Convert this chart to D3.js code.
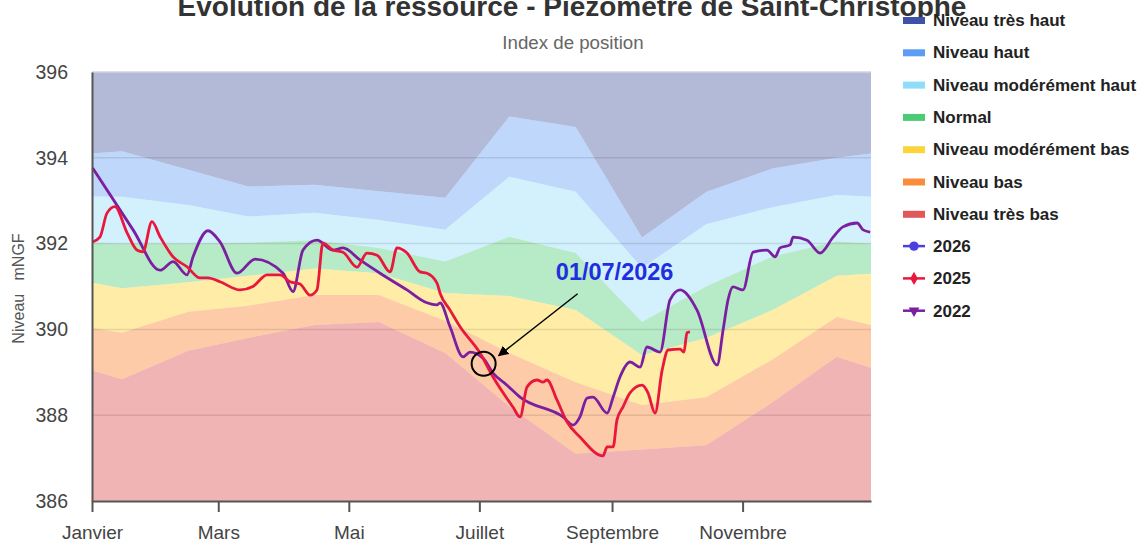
<!DOCTYPE html>
<html>
<head>
<meta charset="utf-8">
<script src="https://cdn.jsdelivr.net/npm/d3@7"></script>
<style>
  body { margin: 0; background: #fff; }
  svg { font-family: "Liberation Sans", Arial, sans-serif; }
</style>
</head>
<body>
<div id="chart"></div>
<script>
// --- data (day of year, value in mNGF) ---
const monthTickDays = [0, 59, 120, 181, 243, 304];
const monthLabels = ["Janvier", "Mars", "Mai", "Juillet", "Septembre", "Novembre"];
const yTicks = [386, 388, 390, 392, 394, 396];

// threshold curves, one point per month (15th) plus the year ends
const thresholdDays = [0, 14, 45, 73, 104, 134, 165, 195, 226, 257, 287, 318, 348, 364];
const limitTresBas = [389.05, 388.84, 389.5, 389.8, 390.1, 390.17, 389.45, 388.2, 387.1, 387.2, 387.3, 388.3, 389.36, 389.1];
const limitBas = [390.03, 389.92, 390.41, 390.55, 390.8, 390.8, 390.2, 389.45, 388.77, 388.24, 388.42, 389.3, 390.29, 390.1];
const limitModBas = [391.09, 390.96, 391.1, 391.25, 391.42, 391.31, 390.85, 390.78, 390.45, 389.4, 389.8, 390.45, 391.25, 391.3];
const limitNormal = [392.02, 392.0, 392.0, 392.02, 392.08, 391.9, 391.58, 392.16, 391.78, 390.17, 391.0, 391.7, 392.05, 392.0];
const limitModHaut = [393.1, 393.09, 392.9, 392.63, 392.72, 392.55, 392.32, 393.56, 393.21, 391.43, 392.45, 392.85, 393.13, 393.09];
const limitHaut = [394.1, 394.15, 393.72, 393.33, 393.37, 393.22, 393.07, 394.96, 394.72, 392.14, 393.2, 393.75, 394.0, 394.1];

const levels2025 = [
  [0.3, 392.04], [3.7, 392.15], [7.0, 392.71], [10.7, 392.86], [16.4, 392.25], [21.0, 391.85],
  [23.8, 391.81], [28.0, 392.51], [31.8, 392.16], [37.9, 391.69], [44.4, 391.46], [50.5, 391.2],
  [54.2, 391.2], [59.8, 391.11], [69.2, 390.92], [75.2, 391.0], [81.8, 391.27], [87.9, 391.27],
  [92.5, 391.11], [97.2, 391.06], [101.9, 390.8], [105.1, 390.92], [107.9, 392.01], [112.6, 391.85],
  [117.3, 391.8], [123.8, 391.45], [128.5, 391.78], [133.2, 391.73], [139.3, 391.34], [142.5, 391.9],
  [147.2, 391.78], [153.3, 391.34], [156.5, 391.31], [161.2, 391.08], [162.6, 390.85], [167.3, 390.45],
  [172.0, 390.06], [181.3, 389.45], [187.4, 388.89], [196.7, 388.19], [200, 387.96], [203.3, 388.66],
  [207.9, 388.82], [210.7, 388.77], [212.6, 388.82], [217.3, 388.35], [222, 387.84], [228, 387.49],
  [238.8, 387.05], [240.7, 387.26], [243.5, 387.26], [245.3, 387.89], [248.1, 388.19], [251.4, 388.52],
  [257, 388.7], [259.8, 388.52], [263.1, 388.05], [266.4, 389.05], [269.2, 389.52], [274.8, 389.54],
  [276.6, 389.47], [278, 389.92], [279.4, 389.94]
];
const levels2022 = [
  [0.3, 393.76], [19.2, 392.32], [31.8, 391.38], [37.9, 391.58], [44.4, 391.27], [47.2, 391.69],
  [54.2, 392.3], [59.8, 392.04], [67.8, 391.31], [76.2, 391.64], [89.3, 391.31], [93.9, 390.88],
  [98.6, 391.85], [105.1, 392.08], [112.6, 391.85], [117.3, 391.9], [125.2, 391.62], [134.6, 391.31],
  [147.2, 390.92], [156.5, 390.62], [161.2, 390.57], [162.6, 390.62], [167.3, 390.06], [173.4, 389.36],
  [176.6, 389.47], [182.7, 389.33], [187.4, 388.98], [193.9, 388.7], [200, 388.42], [220.1, 387.96],
  [224.8, 387.77], [228, 387.96], [231.3, 388.4], [234.1, 388.42], [240.7, 388.05], [243.5, 388.42],
  [246.7, 388.89], [251.4, 389.24], [256.1, 389.12], [259.3, 389.59], [265.4, 389.47], [270.1, 390.69],
  [274.8, 390.92], [282.7, 390.45], [292.1, 389.17], [294.9, 389.99], [297.2, 390.69], [299.5, 390.99],
  [304.2, 390.92], [308.9, 391.8], [315.4, 391.85], [319.2, 391.69], [321.5, 391.9], [326.2, 391.97],
  [327.6, 392.15], [334.1, 392.08], [340.2, 391.78], [346.3, 392.15], [350.9, 392.39], [357.5, 392.48],
  [360.3, 392.32], [363.6, 392.27]
];

const bandNames = ["Niveau très haut", "Niveau haut", "Niveau modérément haut", "Normal",
  "Niveau modérément bas", "Niveau bas", "Niveau très bas"];
const bandColors = ["#3f51a8", "#5c9cf5", "#8fdcfa", "#4cca74", "#fcd43c", "#fb8c3c", "#e05858"];
const bandFills = ["#41539d", "#5c9cf5", "#8fdcfa", "#4cca74", "#fcd43c", "#fb8c3c", "#e05858"];
const seriesNames = ["2026", "2025", "2022"];
const seriesColors = ["#4b3fe0", "#e8173c", "#7b1fa2"];

const annotationLabel = "01/07/2026";
const annotationPoint = [183, 389.2];

// --- layout ---
const W = 1146, H = 544;
const plot = { left: 92, right: 871, top: 72, bottom: 501 };
const year0 = new Date(2026, 0, 1);
const dayToDate = d => new Date(year0.getTime() + d * 864e5);

const svg = d3.select("#chart").append("svg")
  .attr("width", W).attr("height", H);

const x = d3.scaleTime()
  .domain([year0, new Date(2026, 11, 31)])
  .range([plot.left, plot.right]);
const y = d3.scaleLinear().domain([386, 396]).range([plot.bottom, plot.top]);

// bands: from top (très haut) to bottom (très bas)
const bounds = [
  thresholdDays.map(() => 396), limitHaut, limitModHaut, limitNormal,
  limitModBas, limitBas, limitTresBas, thresholdDays.map(() => 386)
];
const area = d3.area()
  .x(d => x(dayToDate(d.day)))
  .y0(d => y(d.lo))
  .y1(d => y(d.hi));

bandNames.forEach((name, i) => {
  const pts = thresholdDays.map((day, k) => ({ day, hi: bounds[i][k], lo: bounds[i + 1][k] }));
  svg.append("path")
    .datum(pts)
    .attr("d", area)
    .attr("fill", bandFills[i])
    .attr("fill-opacity", i < 4 ? 0.4 : 0.45);
});

// grid
svg.append("g")
  .selectAll("line")
  .data(yTicks.filter(v => v > 386))
  .join("line")
  .attr("x1", plot.left).attr("x2", plot.right)
  .attr("y1", d => y(d)).attr("y2", d => y(d))
  .attr("stroke", v => v === 396 ? "#d0d4e0" : "#000")
  .attr("stroke-opacity", v => v === 396 ? 1 : 0.1)
  .attr("stroke-width", 1.5);

// series lines
const line = d3.line()
  .x(d => x(dayToDate(d[0])))
  .y(d => y(d[1]))
  .curve(d3.curveMonotoneX);

svg.append("path").datum(levels2022).attr("d", line)
  .attr("fill", "none").attr("stroke", seriesColors[2]).attr("stroke-width", 2.8);
svg.append("path").datum(levels2025).attr("d", line)
  .attr("fill", "none").attr("stroke", seriesColors[1]).attr("stroke-width", 2.8);

// axes
const yAxis = svg.append("g")
  .attr("transform", `translate(${plot.left},0)`)
  .call(d3.axisLeft(y).tickValues(yTicks).tickFormat(d3.format("d")).tickSize(0).tickPadding(24));
yAxis.select(".domain").attr("stroke", "#555").attr("stroke-width", 2);
yAxis.selectAll("text").attr("font-size", 19.5).attr("fill", "#444")
  .attr("font-family", "'Liberation Sans', Arial, sans-serif");

const xAxis = svg.append("g")
  .attr("transform", `translate(0,${plot.bottom})`)
  .call(d3.axisBottom(x)
    .tickValues(monthTickDays.map(dayToDate))
    .tickFormat((d, i) => monthLabels[i])
    .tickSizeOuter(0).tickSizeInner(11).tickPadding(14));
xAxis.select(".domain").attr("stroke", "#555").attr("stroke-width", 2);
xAxis.selectAll(".tick line").attr("stroke", "#555").attr("stroke-width", 2);
xAxis.selectAll("text").attr("font-size", 19).attr("fill", "#444")
  .attr("font-family", "'Liberation Sans', Arial, sans-serif");

// axis title
svg.append("text")
  .attr("transform", `translate(24,${(plot.top + plot.bottom) / 2 + 2}) rotate(-90)`)
  .attr("text-anchor", "middle")
  .attr("font-size", 16)
  .attr("fill", "#555")
  .style("white-space", "pre")
  .text("Niveau   mNGF");

// titles
svg.append("text")
  .attr("x", 572).attr("y", 16)
  .attr("text-anchor", "middle")
  .attr("font-size", 28).attr("font-weight", "bold").attr("fill", "#333")
  .text("Évolution de la ressource - Piézomètre de Saint-Christophe");
svg.append("text")
  .attr("x", 573).attr("y", 49)
  .attr("text-anchor", "middle")
  .attr("font-size", 18.7).attr("fill", "#666")
  .text("Index de position");

// annotation
const ax = x(dayToDate(annotationPoint[0])), ay = y(annotationPoint[1]);
svg.append("defs").append("marker")
  .attr("id", "arrow").attr("viewBox", "0 0 10 10")
  .attr("refX", 9).attr("refY", 5)
  .attr("markerWidth", 7).attr("markerHeight", 7)
  .attr("orient", "auto")
  .append("path").attr("d", "M0,0L10,5L0,10z").attr("fill", "#000");
svg.append("circle")
  .attr("cx", ax).attr("cy", ay).attr("r", 12)
  .attr("fill", "none").attr("stroke", "#000").attr("stroke-width", 2);
svg.append("line")
  .attr("x1", ax + 94).attr("y1", ay - 70)
  .attr("x2", ax + 15).attr("y2", ay - 8)
  .attr("stroke", "#000").attr("stroke-width", 1.5)
  .attr("marker-end", "url(#arrow)");
svg.append("text")
  .attr("x", ax + 131).attr("y", ay - 84)
  .attr("text-anchor", "middle")
  .attr("font-size", 23.5).attr("font-weight", "bold").attr("fill", "#1f2ee0")
  .text(annotationLabel);

// legend
const legend = svg.append("g").attr("transform", "translate(903,19)");
const rowH = 32.3;
bandNames.forEach((name, i) => {
  const g = legend.append("g").attr("transform", `translate(0,${i * rowH})`);
  g.append("rect").attr("x", 0).attr("y", -2).attr("width", 22).attr("height", 7)
    .attr("fill", bandColors[i]);
  g.append("text").attr("x", 30).attr("y", 7)
    .attr("font-size", 17).attr("font-weight", "bold").attr("fill", "#222")
    .text(name);
});
seriesNames.forEach((name, j) => {
  const i = bandNames.length + j;
  const g = legend.append("g").attr("transform", `translate(0,${i * rowH})`);
  g.append("line").attr("x1", 0).attr("x2", 22).attr("y1", 1).attr("y2", 1)
    .attr("stroke", seriesColors[j]).attr("stroke-width", 2.5);
  const sym = [d3.symbolCircle, d3.symbolDiamond, d3.symbolTriangle][j];
  g.append("path")
    .attr("d", d3.symbol(sym, j === 0 ? 70 : 50)())
    .attr("transform", `translate(11,1)${j === 2 ? " rotate(180)" : ""}`)
    .attr("fill", seriesColors[j]);
  g.append("text").attr("x", 30).attr("y", 7)
    .attr("font-size", 17).attr("font-weight", "bold").attr("fill", "#222")
    .text(name);
});
</script>
</body>
</html>
